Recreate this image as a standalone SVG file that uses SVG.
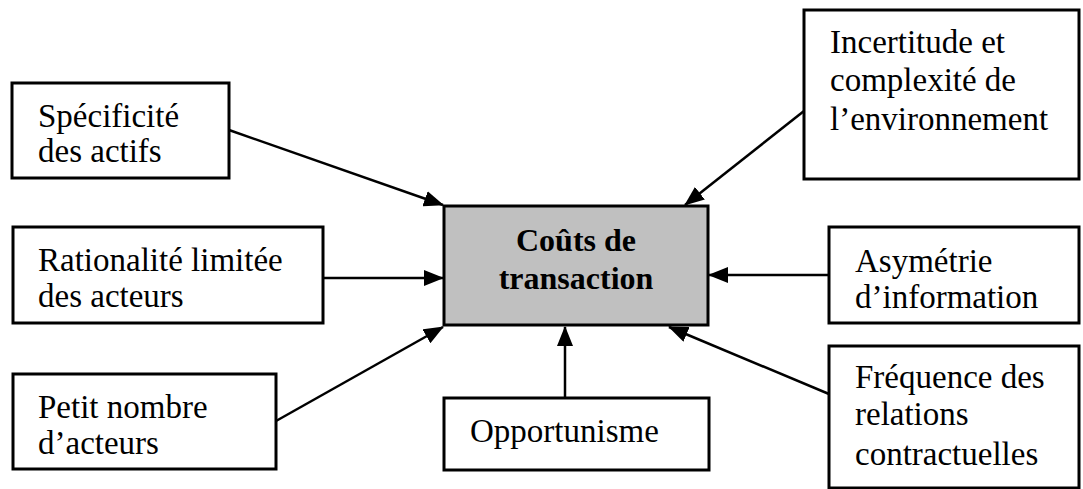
<svg xmlns="http://www.w3.org/2000/svg" width="1083" height="489" viewBox="0 0 1083 489">
<style>
.box{fill:#fff;stroke:#000;stroke-width:3}
.center{fill:#c0c0c0;stroke:#000;stroke-width:3}
.t{font-family:"Liberation Serif","Times New Roman",serif;font-size:33px;fill:#000}
.b{font-weight:bold;text-anchor:middle;font-size:32px}
.c{stroke:#000;stroke-width:2.5;fill:none;marker-end:url(#ah)}
</style>
<defs>
<marker id="ah" markerUnits="userSpaceOnUse" markerWidth="20" markerHeight="16" refX="19" refY="8" orient="auto">
<path d="M0,0 L20,8 L0,16 Z" fill="#000"/>
</marker>
</defs>
<rect width="1083" height="489" fill="#fff"/>
<g id="connectors">
<line class="c" x1="229" y1="130" x2="443" y2="205"/>
<line class="c" x1="323" y1="278" x2="443" y2="278"/>
<line class="c" x1="276" y1="421" x2="443" y2="327"/>
<line class="c" x1="804" y1="111" x2="685" y2="205"/>
<line class="c" x1="829" y1="275" x2="709" y2="275"/>
<line class="c" x1="829" y1="394" x2="669" y2="327"/>
<line class="c" x1="565" y1="398" x2="565" y2="327"/>
</g>
<g id="n-specificite">
<rect class="box" x="12" y="83" width="217" height="95"/>
<text class="t" x="38" y="127">Spécificité</text>
<text class="t" x="38" y="162">des actifs</text>
</g>
<g id="n-rationalite">
<rect class="box" x="13" y="227" width="310" height="96"/>
<text class="t" x="38" y="271">Rationalité limitée</text>
<text class="t" x="38" y="307">des acteurs</text>
</g>
<g id="n-petit">
<rect class="box" x="13" y="374" width="263" height="95"/>
<text class="t" x="38" y="418">Petit nombre</text>
<text class="t" x="38" y="454">d’acteurs</text>
</g>
<g id="n-couts">
<rect class="center" x="444" y="206" width="264" height="119"/>
<text class="t b" x="576" y="251">Coûts de</text>
<text class="t b" x="576" y="289">transaction</text>
</g>
<g id="n-incertitude">
<rect class="box" x="804" y="10" width="275" height="169"/>
<text class="t" x="830" y="53">Incertitude et</text>
<text class="t" x="830" y="91">complexité de</text>
<text class="t" x="830" y="130">l’environnement</text>
</g>
<g id="n-asymetrie">
<rect class="box" x="829" y="227" width="250" height="96"/>
<text class="t" x="855" y="272">Asymétrie</text>
<text class="t" x="855" y="308">d’information</text>
</g>
<g id="n-frequence">
<rect class="box" x="829" y="346" width="250" height="142"/>
<text class="t" x="855" y="388">Fréquence des</text>
<text class="t" x="855" y="425">relations</text>
<text class="t" x="855" y="465">contractuelles</text>
</g>
<g id="n-opportunisme">
<rect class="box" x="444" y="398" width="265" height="72"/>
<text class="t" x="470" y="442">Opportunisme</text>
</g>
</svg>
